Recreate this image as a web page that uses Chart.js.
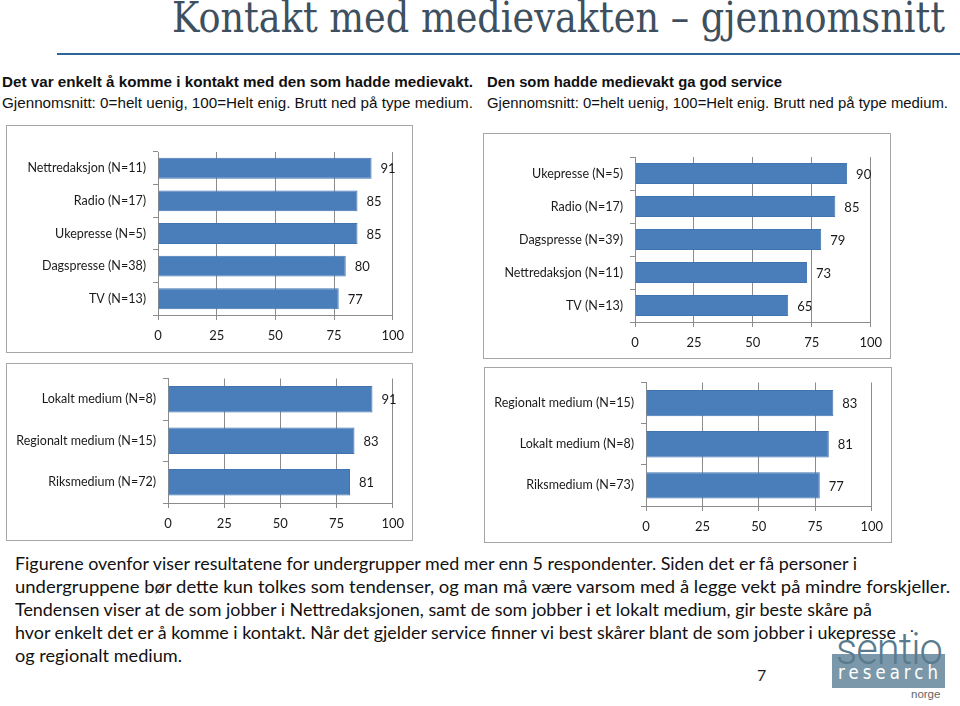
<!DOCTYPE html>
<html lang="no">
<head>
<meta charset="UTF-8">
<title>Kontakt med medievakten – gjennomsnitt</title>
<script src="https://cdn.jsdelivr.net/npm/chart.js"></script>
<style>
    body { margin: 0; background: #fff; width: 960px; height: 706px; position: relative; overflow: hidden; font-family: 'Lato', 'Open Sans', sans-serif; color: #1a1a1a; }
    .abs { position: absolute; white-space: nowrap; }
    #title { left: 172px; top: -7px; font-family: 'DejaVu Serif', serif; font-size: 42px; color: #3e5060; }
    #rule { left: 57px; top: 53px; width: 903px; height: 2px; background: #2e6596; }
    .sub { font-family: 'Liberation Sans', Arial, sans-serif; font-size: 15px; color: #111; }
    .sub b { font-weight: bold; }
    .box { position: absolute; border: 1px solid #a6a6a6; background: #fff; }
    .box canvas { display: block; }
    .para { font-family: 'Lato', 'Open Sans', sans-serif; font-size: 17.5px; color: #111; left: 15px; }
    #logo-word { left: 836px; top: 623px; font-family: 'Roboto', 'Lato', sans-serif; font-weight: 300; font-size: 44px; color: #5a7b8e; letter-spacing: -1px; }
    #logo-bar { left: 832px; top: 654px; width: 113px; height: 34px; background: #7b98aa; }
    #logo-research { left: 838px; top: 661px; font-family: 'DejaVu Sans Condensed', 'DejaVu Sans', sans-serif; font-size: 19px; color: #fff; letter-spacing: 4.2px; }
    #logo-norge { left: 911px; top: 688px; font-family: 'Liberation Sans', Arial, sans-serif; font-size: 11.5px; color: #666; }
</style>
</head>
<body>
<div id="title" class="abs" data-w="773">Kontakt med medievakten – gjennomsnitt</div>
<div id="rule" class="abs"></div>

<div class="abs sub" style="left:2px;top:73px;" data-w="471"><b>Det var enkelt å komme i kontakt med den som hadde medievakt.</b></div>
<div class="abs sub" style="left:2px;top:94px;" data-w="471">Gjennomsnitt: 0=helt uenig, 100=Helt enig. Brutt ned på type medium.</div>
<div class="abs sub" style="left:487px;top:73px;" data-w="295"><b>Den som hadde medievakt ga god service</b></div>
<div class="abs sub" style="left:487px;top:94px;" data-w="461">Gjennomsnitt: 0=helt uenig, 100=Helt enig. Brutt ned på type medium.</div>

<div class="box" style="left:6px;top:125px;"><canvas id="c1" width="405" height="226"></canvas></div>
<div class="box" style="left:483px;top:133px;"><canvas id="c2" width="406" height="224"></canvas></div>
<div class="box" style="left:6px;top:363px;"><canvas id="c3" width="405" height="176"></canvas></div>
<div class="box" style="left:484px;top:367px;"><canvas id="c4" width="406" height="174"></canvas></div>

<div class="abs para" style="top:553px;" data-w="842">Figurene ovenfor viser resultatene for undergrupper med mer enn 5 respondenter. Siden det er få personer i</div>
<div class="abs para" style="top:576px;" data-w="935">undergruppene bør dette kun tolkes som tendenser, og man må være varsom med å legge vekt på mindre forskjeller.</div>
<div class="abs para" style="top:599px;" data-w="857">Tendensen viser at de som jobber i Nettredaksjonen, samt de som jobber i et lokalt medium, gir beste skåre på</div>
<div class="abs para" style="top:622px;" data-w="881">hvor enkelt det er å komme i kontakt. Når det gjelder service finner vi best skårer blant de som jobber i ukepresse</div>
<div class="abs para" style="top:645px;" data-w="167">og regionalt medium.</div>

<div id="logo-bar" class="abs"></div>
<div id="logo-word" class="abs" data-w="106">sentio</div>
<div id="logo-research" class="abs" data-w="104">research</div>
<div id="logo-norge" class="abs">norge</div>
<div class="abs" style="left:910px;top:616px;font-size:16px;">.</div>
<div class="abs" style="left:757px;top:665px;font-size:16px;font-family:'Lato',sans-serif;">7</div>

<script>
    // data
    const contactLabels = ['Nettredaksjon (N=11)', 'Radio (N=17)', 'Ukepresse (N=5)', 'Dagspresse (N=38)', 'TV (N=13)'];
    const contactValues = [91, 85, 85, 80, 77];

    const serviceLabels = ['Ukepresse (N=5)', 'Radio (N=17)', 'Dagspresse (N=39)', 'Nettredaksjon (N=11)', 'TV (N=13)'];
    const serviceValues = [90, 85, 79, 73, 65];

    const contactMediumLabels = ['Lokalt medium (N=8)', 'Regionalt medium (N=15)', 'Riksmedium (N=72)'];
    const contactMediumValues = [91, 83, 81];

    const serviceMediumLabels = ['Regionalt medium (N=15)', 'Lokalt medium (N=8)', 'Riksmedium (N=73)'];
    const serviceMediumValues = [83, 81, 77];

    const xTicks = [0, 25, 50, 75, 100];

    // stretch text lines to the widths seen in the picture
    document.querySelectorAll('[data-w]').forEach(el => {
        const w = el.getBoundingClientRect().width;
        const target = parseFloat(el.dataset.w);
        el.style.transformOrigin = 'left top';
        el.style.transform = 'scaleX(' + (target / w) + ')';
    });

    const FONT = "'Lato', 'Open Sans', sans-serif";
    const GRID = '#8c8c8c';

    // value labels to the right of each bar
    const valueLabels = {
        id: 'valueLabels',
        afterDatasetsDraw(chart) {
            const ctx = chart.ctx;
            ctx.save();
            ctx.font = '13px ' + FONT;
            ctx.fillStyle = '#1a1a1a';
            ctx.textAlign = 'left';
            ctx.textBaseline = 'middle';
            const meta = chart.getDatasetMeta(0);
            meta.data.forEach((bar, i) => {
                ctx.fillText(chart.data.datasets[0].data[i], bar.x + 9, bar.y + 1);
            });
            ctx.restore();
        }
    };

    // lay: y-axis width, right/top padding, x-axis height
    function makeChart(id, labels, values, lay) {
        return new Chart(document.getElementById(id), {
            type: 'bar',
            data: {
                labels: labels,
                datasets: [{
                    data: values,
                    backgroundColor: '#4a7ebb',
                    borderColor: '#4275b0',
                    borderWidth: 1,
                    barPercentage: 0.64,
                    categoryPercentage: 1
                }]
            },
            options: {
                indexAxis: 'y',
                responsive: false,
                animation: false,
                layout: { padding: { left: 0, right: lay.right, top: lay.top, bottom: 0 } },
                plugins: { legend: { display: false }, tooltip: { enabled: false } },
                scales: {
                    x: {
                        min: 0, max: 100,
                        afterBuildTicks: s => { s.ticks = xTicks.map(v => ({ value: v })); },
                        afterFit: s => { s.height = lay.bottom; },
                        grid: { color: GRID, lineWidth: 1, tickLength: 5 },
                        border: { display: true, color: GRID },
                        ticks: { font: { family: FONT, size: 13 }, color: '#1a1a1a', padding: 8, maxRotation: 0 }
                    },
                    y: {
                        afterFit: s => { s.width = lay.left; },
                        grid: { drawOnChartArea: false, color: GRID, tickLength: 5, offset: true },
                        border: { display: true, color: GRID },
                        ticks: { font: { family: FONT, size: 12.5 }, color: '#1a1a1a', padding: 7 }
                    }
                }
            },
            plugins: [valueLabels]
        });
    }

    makeChart('c1', contactLabels, contactValues, { left: 151, right: 18, top: 26, bottom: 37 });
    makeChart('c2', serviceLabels, serviceValues, { left: 151, right: 18, top: 23, bottom: 36 });
    makeChart('c3', contactMediumLabels, contactMediumValues, { left: 161, right: 18, top: 11, bottom: 37 });
    makeChart('c4', serviceMediumLabels, serviceMediumValues, { left: 161, right: 19, top: 10, bottom: 36 });
</script>
</body>
</html>
